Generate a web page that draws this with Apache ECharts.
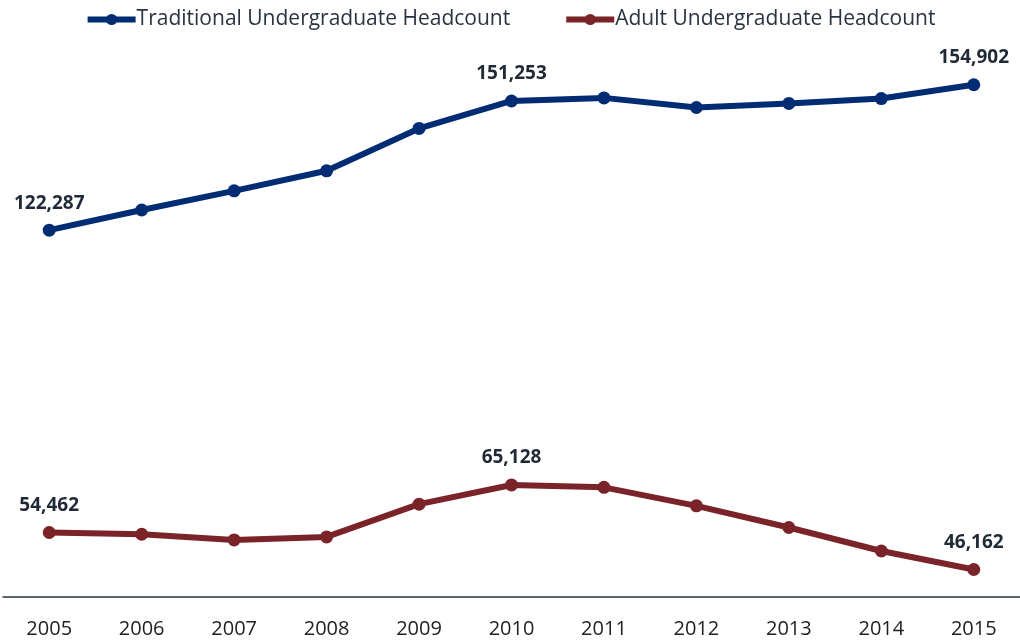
<!DOCTYPE html>
<html>
<head>
<meta charset="utf-8">
<script src="https://cdn.jsdelivr.net/npm/echarts@6/dist/echarts.min.js"></script>
<style>
  html, body { margin: 0; padding: 0; background: #fff; }
  #chart { width: 1020px; height: 642px; }
</style>
</head>
<body>
<div id="chart"></div>
<script>
var years = ['2005','2006','2007','2008','2009','2010','2011','2012','2013','2014','2015'];
var traditional = [122287, 126800, 131100, 135600, 145100, 151253, 151950, 149800, 150700, 151800, 154902];
var adult = [54462, 54080, 52800, 53470, 60830, 65128, 64600, 60450, 55590, 50320, 46162];
// only these points get a value label
var labelled = [0, 5, 10];

var chart = echarts.init(document.getElementById('chart'));

function pointLabels(values) {
    return values.map(function (v, i) {
        return {
            value: v,
            label: { show: labelled.indexOf(i) >= 0 }
        };
    });
}

var valueLabel = {
    position: 'top',
    distance: 11,
    fontSize: 19,
    fontWeight: 'bold',
    color: '#1f2a36',
    fontFamily: 'Open Sans',
    formatter: function (p) { return p.value.toLocaleString('en-US'); }
};

var option = {
    textStyle: { fontFamily: 'Open Sans' },
    legend: {
        top: 4,
        left: 'center',
        itemWidth: 48,
        itemHeight: 14,
        itemGap: 53,
        lineStyle: { width: 6 },
        textStyle: { fontSize: 21, color: '#2b3340', fontFamily: 'Open Sans', padding: [0, 0, 0, -4] },
        data: ['Traditional Undergraduate Headcount', 'Adult Undergraduate Headcount']
    },
    grid: { left: 3, right: -1, top: 62, bottom: 45 },
    xAxis: {
        type: 'category',
        data: years,
        boundaryGap: true,
        axisLine: { lineStyle: { color: '#2b3640', width: 1.5 } },
        axisTick: { show: false },
        axisLabel: { fontSize: 20, color: '#222', margin: 22, fontFamily: 'Open Sans' }
    },
    yAxis: {
        type: 'value',
        min: 40000,
        max: 160000,
        show: false,
        splitLine: { show: false }
    },
    series: [
        {
            name: 'Traditional Undergraduate Headcount',
            type: 'line',
            data: pointLabels(traditional),
            symbol: 'circle',
            symbolSize: 13,
            color: '#002c73',
            lineStyle: { width: 6, color: '#002c73' },
            label: valueLabel
        },
        {
            name: 'Adult Undergraduate Headcount',
            type: 'line',
            data: pointLabels(adult),
            symbol: 'circle',
            symbolSize: 13,
            color: '#7a2328',
            lineStyle: { width: 6, color: '#7a2328' },
            label: valueLabel
        }
    ]
};

chart.setOption(option);
</script>
</body>
</html>
